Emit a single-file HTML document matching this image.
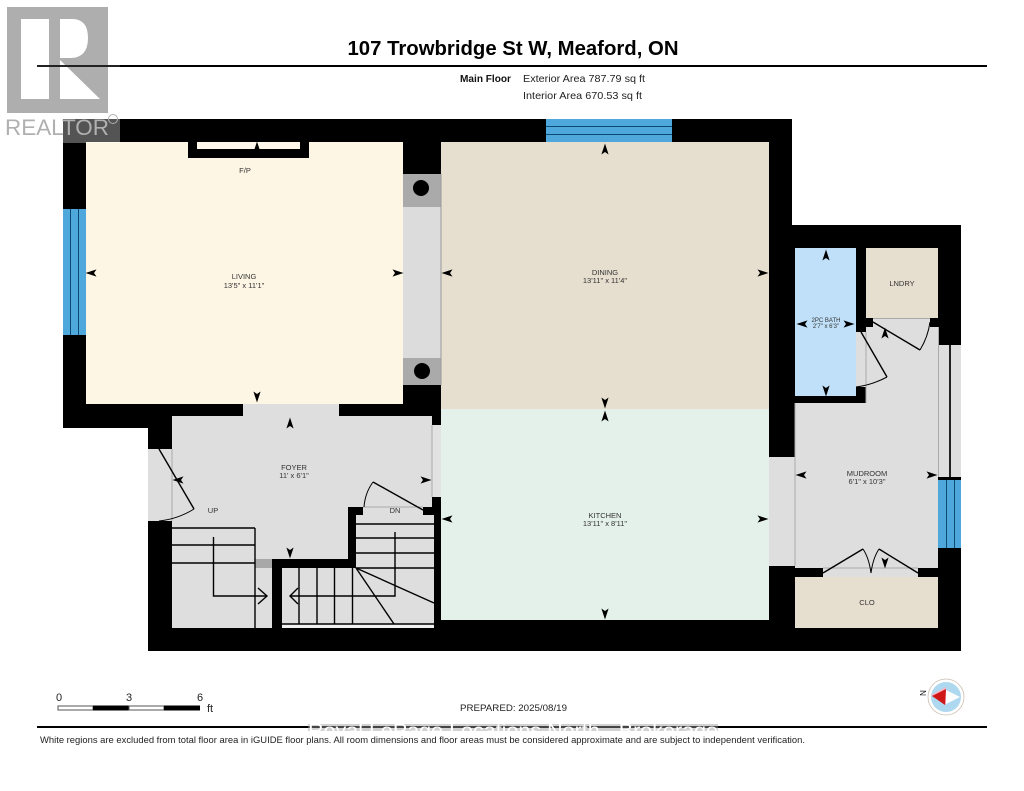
<!DOCTYPE html>
<html><head><meta charset="utf-8"><style>
html,body{margin:0;padding:0;background:#fff}
svg{display:block}
text{font-family:"Liberation Sans",sans-serif}
</style></head><body>
<svg xmlns="http://www.w3.org/2000/svg" width="1024" height="791" viewBox="0 0 1024 791">
<defs>
<polygon id="a" points="0,-5.500 3.600,5.500 0,3 -3.600,5.500" fill="#000"/>
</defs>
<rect width="1024" height="791" fill="#fff"/>
<text x="513" y="55" font-size="20" font-weight="700" text-anchor="middle" textLength="331" lengthAdjust="spacingAndGlyphs" fill="#000">107 Trowbridge St W, Meaford, ON</text>
<rect x="37" y="65" width="950" height="2" fill="#000"/>
<text x="460" y="82" font-size="10.500" font-weight="700" fill="#111" textLength="51" lengthAdjust="spacingAndGlyphs">Main Floor</text>
<text x="523" y="82" font-size="10.500" fill="#222" textLength="122" lengthAdjust="spacingAndGlyphs">Exterior Area 787.79 sq ft</text>
<text x="523" y="99" font-size="10.500" fill="#222" textLength="119" lengthAdjust="spacingAndGlyphs">Interior Area 670.53 sq ft</text>

<!-- walls -->
<polygon points="63,119 792,119 792,225 961,225 961,651 148,651 148,428 63,428" fill="#000"/>
<!-- rooms -->
<rect x="86" y="142" width="317" height="262" fill="#fef6e4"/>
<rect x="441" y="142" width="328" height="267" fill="#e6decf"/>
<rect x="441" y="409" width="328" height="211" fill="#e4f1ea"/>
<!-- living/dining opening -->
<rect x="403" y="207" width="38" height="151" fill="#dcdcdc"/>
<rect x="403" y="174" width="38" height="33" fill="#aaa"/>
<rect x="403" y="358" width="38" height="27" fill="#aaa"/>
<circle cx="421" cy="188" r="8" fill="#000"/>
<circle cx="422" cy="371" r="8" fill="#000"/>
<line x1="441" y1="174" x2="441" y2="385" stroke="#999" stroke-width="1"/>
<!-- fireplace -->
<rect x="188" y="142" width="121" height="16" fill="#000"/>
<rect x="197" y="142" width="103" height="7" fill="#fff8ea"/>
<!-- windows -->
<rect x="546" y="119" width="126" height="23" fill="#4ea8dc"/>
<rect x="546" y="126" width="126" height="1" fill="#0d4a70"/>
<rect x="546" y="134" width="126" height="1" fill="#0d4a70"/>
<rect x="63" y="209" width="23" height="126" fill="#4ea8dc"/>
<rect x="70" y="209" width="1" height="126" fill="#0d4a70"/>
<rect x="78" y="209" width="1" height="126" fill="#0d4a70"/>
<!-- foyer -->
<polygon points="172,416 432,416 432,507 348,507 348,559 272,559 272,628 172,628" fill="#dedede"/>
<rect x="243" y="404" width="96" height="12" fill="#dedede"/>
<rect x="148" y="449" width="24" height="72" fill="#dedede"/>
<rect x="432" y="425" width="9" height="72" fill="#e2e2e2"/>
<line x1="432" y1="425" x2="432" y2="497" stroke="#aaa" stroke-width="1"/>
<line x1="172" y1="449" x2="172" y2="521" stroke="#aaa" stroke-width="1"/>
<rect x="363" y="507" width="60" height="8" fill="#dedede"/>
<line x1="363" y1="507" x2="423" y2="507" stroke="#aaa" stroke-width="1"/>
<rect x="356" y="515" width="78" height="53" fill="#dedede"/>
<rect x="282" y="568" width="152" height="60" fill="#dedede"/>
<rect x="282" y="624" width="152" height="4" fill="#f2f2f2"/>
<rect x="255" y="559" width="17" height="9" fill="#a8a8a8"/>
<!-- foyer doors -->
<g fill="none" stroke="#000" stroke-width="1.400">
<polyline points="159,449 194,509"/>
<path d="M194,509 Q178,519 159,521" stroke-width="1"/>
<polyline points="373,482 423,510"/>
<path d="M364,507 Q365,493 373,482" stroke-width="1"/>
<!-- stairs -->
<line x1="172" y1="528" x2="255" y2="528"/>
<line x1="172" y1="545" x2="255" y2="545"/>
<line x1="172" y1="563" x2="255" y2="563"/>
<line x1="255" y1="528" x2="255" y2="628"/>
<polyline points="213.500,537 213.500,596 266,596"/>
<polyline points="258,588 267,596 258,604"/>
<line x1="356" y1="524" x2="434" y2="524"/>
<line x1="356" y1="538" x2="434" y2="538"/>
<line x1="356" y1="553" x2="434" y2="553"/>
<line x1="356" y1="568" x2="434" y2="568"/>
<polyline points="395,532 395,596 291,596"/>
<polyline points="298,588 290,596 298,604"/>
<line x1="299" y1="568" x2="299" y2="624"/>
<line x1="317" y1="568" x2="317" y2="624"/>
<line x1="334.500" y1="568" x2="334.500" y2="624"/>
<line x1="352.500" y1="568" x2="352.500" y2="624"/>
<line x1="356" y1="568" x2="434" y2="603"/>
<line x1="356" y1="568" x2="394" y2="624"/>
<line x1="282" y1="624" x2="434" y2="624"/>
</g>
<!-- right wing -->
<rect x="795" y="248" width="61" height="148" fill="#bfe0f8"/>
<rect x="866" y="248" width="72" height="70" fill="#e6decf"/>
<polygon points="873,318 930,318 930,327 938,327 938,568 795,568 795,403 866,403 866,327 873,327" fill="#dedede"/>
<rect x="856" y="332" width="10" height="55" fill="#dedede"/>
<rect x="866" y="327" width="8" height="5" fill="#dedede"/>
<rect x="823" y="568" width="95" height="9" fill="#dedede"/>
<rect x="795" y="577" width="143" height="51" fill="#e6decf"/>
<rect x="769" y="457" width="26" height="109" fill="#dedede"/>
<line x1="795" y1="403" x2="795" y2="566" stroke="#aaa" stroke-width="1"/>
<line x1="866" y1="332" x2="866" y2="403" stroke="#aaa" stroke-width="1"/>
<line x1="823" y1="568" x2="918" y2="568" stroke="#aaa" stroke-width="1"/>
<rect x="938" y="345" width="23" height="132" fill="#dedede"/>
<line x1="938.500" y1="327" x2="938.500" y2="548" stroke="#aaa" stroke-width="1"/>
<line x1="873" y1="318.500" x2="930" y2="318.500" stroke="#aaa" stroke-width="1"/>
<rect x="949" y="345" width="2" height="132" fill="#222"/>
<rect x="938" y="477" width="23" height="3" fill="#000"/>
<rect x="938" y="480" width="23" height="68" fill="#4ea8dc"/>
<rect x="946" y="480" width="1" height="68" fill="#0d4a70"/>
<rect x="954" y="480" width="1" height="68" fill="#0d4a70"/>
<g fill="none" stroke="#000" stroke-width="1.400">
<line x1="861" y1="332" x2="887" y2="377"/>
<path d="M887,377 Q872,385 856,387" stroke-width="1"/>
<line x1="873" y1="322" x2="920" y2="350"/>
<path d="M920,350 Q928,337 930,322" stroke-width="1"/>
<line x1="823" y1="573" x2="863" y2="549"/>
<path d="M863,549 Q869,558 871,573" stroke-width="1"/>
<line x1="918" y1="573" x2="879" y2="549"/>
<path d="M879,549 Q873,558 871,573" stroke-width="1"/>
</g>
<!-- dimension arrows -->
<use href="#a" transform="translate(257,147)"/>
<use href="#a" transform="translate(91,273) rotate(-90)"/>
<use href="#a" transform="translate(398,273) rotate(90)"/>
<use href="#a" transform="translate(257,397) rotate(180)"/>
<use href="#a" transform="translate(605,149)"/>
<use href="#a" transform="translate(447,273) rotate(-90)"/>
<use href="#a" transform="translate(763,273) rotate(90)"/>
<use href="#a" transform="translate(605,403) rotate(180)"/>
<use href="#a" transform="translate(605,416)"/>
<use href="#a" transform="translate(447,519) rotate(-90)"/>
<use href="#a" transform="translate(763,519) rotate(90)"/>
<use href="#a" transform="translate(605,614) rotate(180)"/>
<use href="#a" transform="translate(290,423)"/>
<use href="#a" transform="translate(178,480) rotate(-90)"/>
<use href="#a" transform="translate(426,480) rotate(90)"/>
<use href="#a" transform="translate(290,553) rotate(180)"/>
<use href="#a" transform="translate(826,255)"/>
<use href="#a" transform="translate(802,324) rotate(-90)"/>
<use href="#a" transform="translate(849,324) rotate(90)"/>
<use href="#a" transform="translate(826,391) rotate(180)"/>
<use href="#a" transform="translate(885,333)"/>
<use href="#a" transform="translate(801,475) rotate(-90)"/>
<use href="#a" transform="translate(932,475) rotate(90)"/>
<use href="#a" transform="translate(885,563) rotate(180)"/>
<!-- labels -->
<g font-size="7.500" fill="#333" text-anchor="middle">
<text x="245" y="173">F/P</text>
<text x="244" y="279">LIVING</text><text x="244" y="288">13'5" x 11'1"</text>
<text x="605" y="275">DINING</text><text x="605" y="283">13'11" x 11'4"</text>
<text x="294" y="470">FOYER</text><text x="294" y="478">11' x 6'1"</text>
<text x="213" y="513">UP</text><text x="395" y="513">DN</text>
<text x="605" y="518">KITCHEN</text><text x="605" y="526">13'11" x 8'11"</text>
<text x="902" y="286">LNDRY</text>
<text x="826" y="322" font-size="6">2PC BATH</text><text x="826" y="328" font-size="6">2'7" x 6'3"</text>
<text x="867" y="476">MUDROOM</text><text x="867" y="484">6'1" x 10'3"</text>
<text x="867" y="605">CLO</text>
</g>
<!-- scale -->
<g font-size="11" fill="#222"><text x="56" y="701">0</text><text x="126" y="701">3</text><text x="197" y="701">6</text><text x="207" y="712">ft</text></g>
<rect x="58" y="706" width="35" height="4" fill="#fff" stroke="#555" stroke-width="1"/>
<rect x="93" y="705.500" width="36" height="5" fill="#000"/>
<rect x="129" y="706" width="35" height="4" fill="#fff" stroke="#555" stroke-width="1"/>
<rect x="164" y="705.500" width="36" height="5" fill="#000"/>
<text x="460" y="711" font-size="9.500" fill="#222" textLength="107" lengthAdjust="spacingAndGlyphs">PREPARED: 2025/08/19</text>
<!-- compass -->
<circle cx="946" cy="697" r="18" fill="#fff" stroke="#c9bdb0" stroke-width="0.800"/>
<circle cx="946" cy="697" r="15" fill="#aed8f0"/>
<polygon points="931,695 946,687 946,705" fill="#f4b8c8"/>
<polygon points="960,697 946,690 946,704" fill="#fff"/>
<polygon points="932,696 946,689 945,705" fill="#d01818"/>
<text x="0" y="0" font-size="8" fill="#111" text-anchor="middle" transform="translate(920,693) rotate(90)">N</text>
<!-- bottom rule & watermark -->
<rect x="37" y="726" width="950" height="2" fill="#000"/>
<rect x="308" y="724" width="410" height="7" fill="#999" opacity=".45"/>
<text x="308" y="737" font-size="19" fill="#fff" textLength="410" lengthAdjust="spacingAndGlyphs">Royal LePage Locations North - Brokerage</text>
<text x="40" y="743" font-size="9.500" fill="#222" textLength="765" lengthAdjust="spacingAndGlyphs">White regions are excluded from total floor area in iGUIDE floor plans. All room dimensions and floor areas must be considered approximate and are subject to independent verification.</text>
<!-- realtor logo -->
<rect x="0" y="0" width="120" height="143" fill="#fff" opacity=".33"/>
<rect x="7" y="7" width="101" height="106" fill="#aeaeae"/>
<rect x="21" y="19" width="28" height="80" fill="#fff"/>
<path d="M60,19 H72 Q88,19 88,38 Q88,58 70,58 H60 Z" fill="#fff"/>
<polygon points="60,60 100,99 60,99" fill="#fff"/>
<rect x="37" y="65" width="83" height="2" fill="#222"/>
<text x="5" y="135" font-size="22" fill="#b0b0b0" textLength="104" lengthAdjust="spacingAndGlyphs">REALTOR</text>
<circle cx="113" cy="119" r="4.500" fill="none" stroke="#b0b0b0" stroke-width="1"/>
</svg>
</body></html>
